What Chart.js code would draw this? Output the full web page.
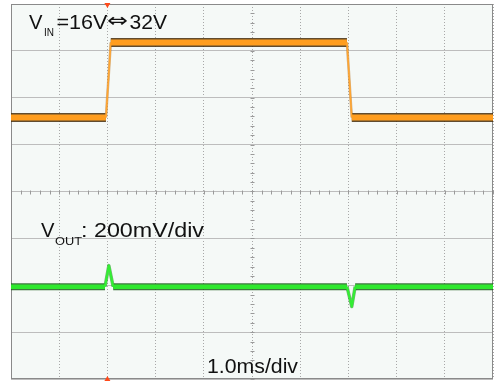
<!DOCTYPE html>
<html>
<head>
<meta charset="utf-8">
<script src="https://cdn.jsdelivr.net/npm/chart.js@4.4.1/dist/chart.umd.min.js"></script>
<style>
  html, body { margin: 0; padding: 0; background: #fff; }
  #scope { display: block; }
</style>
</head>
<body>
<canvas id="scope" width="494" height="381"></canvas>
<script>
// time base: 1.0 ms/div, 10 divisions across
var timeMin = 0, timeMax = 10;
var triggerTime = 2.0;

// CH1 - input step 16 V <-> 32 V (10 V/div)
var vinTime = [0, 1.97, 2.07, 6.97, 7.07, 10];
var vinVolts = [16, 16, 32, 32, 16, 16];

// CH2 - output deviation in mV (200 mV/div, AC coupled)
var voutTime = [0, 1.95, 2.03, 2.12, 6.97, 7.07, 7.14, 10];
var voutMv = [0, 0, 90, 0, 0, -85, 0, 0];

function toPoints(xs, ys) {
    var pts = [];
    for (var i = 0; i < xs.length; i++) pts.push({ x: xs[i], y: ys[i] });
    return pts;
}

// flat parts of a trace show the noise band, edges and spikes are thin
function bandWidth(wide, thin) {
    return function (c) {
        return c.p0.parsed.y === c.p1.parsed.y ? wide : thin;
    };
}

function trace(points, axis, color, edgeColor, wide, thin, order) {
    return {
        data: points,
        yAxisID: axis,
        borderColor: color,
        borderWidth: wide,
        borderCapStyle: 'butt',
        borderJoinStyle: 'round',
        pointRadius: 0,
        tension: 0,
        order: order,
        segment: {
            borderWidth: bandWidth(wide, thin),
            borderColor: function (c) {
                return c.p0.parsed.y === c.p1.parsed.y ? color : edgeColor;
            }
        }
    };
}

function stretchText(ctx, txt, x, y, size, width, family) {
    ctx.save();
    ctx.font = size + 'px ' + (family || '"Liberation Sans", Arial, sans-serif');
    var w = ctx.measureText(txt).width;
    ctx.translate(x, y);
    ctx.scale(width / w, 1);
    ctx.fillText(txt, 0, 0);
    ctx.restore();
}

var scopeScreen = {
    id: 'scopeScreen',
    beforeDraw: function (chart) {
        var a = chart.chartArea, ctx = chart.ctx;
        ctx.save();
        ctx.fillStyle = '#f5f9f7';
        ctx.fillRect(a.left, a.top, a.right - a.left, a.bottom - a.top);
        ctx.restore();
    },
    beforeDatasetsDraw: function (chart) {
        var a = chart.chartArea, ctx = chart.ctx;
        var xs = chart.scales.x, ys = chart.scales.yGrid;
        var cx = Math.round(xs.getPixelForValue(5)) + 0.5;
        var cy = Math.round(ys.getPixelForValue(4)) + 0.5;
        ctx.save();
        ctx.strokeStyle = '#9a9a9a';
        ctx.lineWidth = 1;
        ctx.beginPath();
        // minor ticks on the centre cross, 5 per division
        for (var t = 0; t <= 10; t += 0.2) {
            var px = Math.round(xs.getPixelForValue(t)) + 0.5;
            ctx.moveTo(px, cy - 2);
            ctx.lineTo(px, cy + 2);
        }
        for (var v = 0; v <= 8; v += 0.2) {
            var py = Math.round(ys.getPixelForValue(v)) + 0.5;
            ctx.moveTo(cx - 2, py);
            ctx.lineTo(cx + 2, py);
        }
        ctx.stroke();
        ctx.strokeStyle = '#8a8a8a';
        ctx.strokeRect(a.left + 0.5, a.top + 0.5, a.right - a.left - 1, a.bottom - a.top - 1);
        ctx.restore();
    },
    afterDatasetsDraw: function (chart) {
        var a = chart.chartArea, ctx = chart.ctx;
        var tx = chart.scales.x.getPixelForValue(triggerTime);
        ctx.save();
        // trigger position markers
        ctx.fillStyle = '#ff4a1a';
        ctx.beginPath();
        ctx.moveTo(tx - 3, a.top - 1);
        ctx.lineTo(tx + 3, a.top - 1);
        ctx.lineTo(tx, a.top + 4);
        ctx.fill();
        ctx.beginPath();
        ctx.moveTo(tx, a.bottom - 3);
        ctx.lineTo(tx + 3, a.bottom + 2);
        ctx.lineTo(tx - 3, a.bottom + 2);
        ctx.fill();

        ctx.fillStyle = '#111';
        ctx.textBaseline = 'alphabetic';
        stretchText(ctx, 'V', 29, 29, 20, 13.5);
        stretchText(ctx, 'IN', 44, 36, 10, 10);
        stretchText(ctx, '=16V', 56.5, 29, 20, 51);
        stretchText(ctx, '\u21D4', 107, 27, 20, 21, '"DejaVu Sans", sans-serif');
        stretchText(ctx, '32V', 129.5, 29, 20, 37.5);

        stretchText(ctx, 'V', 41, 237, 20, 13.5);
        stretchText(ctx, 'OUT', 55, 245, 10, 27);
        stretchText(ctx, ': 200mV/div', 81, 237, 20, 123);

        stretchText(ctx, '1.0ms/div', 207, 373, 20, 91);
        ctx.restore();
    }
};

var vinPts = toPoints(vinTime, vinVolts);
var voutPts = toPoints(voutTime, voutMv);

new Chart(document.getElementById('scope').getContext('2d'), {
    type: 'line',
    data: {
        datasets: [
            trace(vinPts, 'yIn', '#ff9d1e', '#ffa530', 6, 1.6, 1),
            trace(vinPts, 'yIn', 'rgba(70, 46, 12, 0.85)', 'rgba(180, 110, 30, 0.5)', 9, 2.6, 2),
            trace(voutPts, 'yOut', '#2ee82e', '#33ee33', 4.5, 2.2, 1),
            trace(voutPts, 'yOut', 'rgba(28, 96, 28, 0.85)', 'rgba(30, 140, 30, 0.6)', 7, 3.4, 2)
        ]
    },
    options: {
        responsive: false,
        animation: false,
        events: [],
        layout: { padding: { left: 11, top: 4, right: 1, bottom: 2 } },
        plugins: {
            legend: { display: false },
            tooltip: { enabled: false }
        },
        scales: {
            x: {
                type: 'linear',
                min: timeMin,
                max: timeMax,
                ticks: { display: false, stepSize: 1 },
                grid: { color: '#a8a8a8', drawTicks: false, lineWidth: 1 },
                border: { display: false, dash: [1, 2] }
            },
            yGrid: {
                type: 'linear',
                position: 'left',
                min: 0,
                max: 8,
                ticks: { display: false, stepSize: 1 },
                grid: { color: '#bdbdbd', drawTicks: false, lineWidth: 1 },
                border: { display: false }
            },
            yIn: { type: 'linear', display: false, min: -39.8, max: 40.2 },
            yOut: { type: 'linear', display: false, min: -394, max: 1206 }
        }
    },
    plugins: [scopeScreen]
});
</script>
</body>
</html>
